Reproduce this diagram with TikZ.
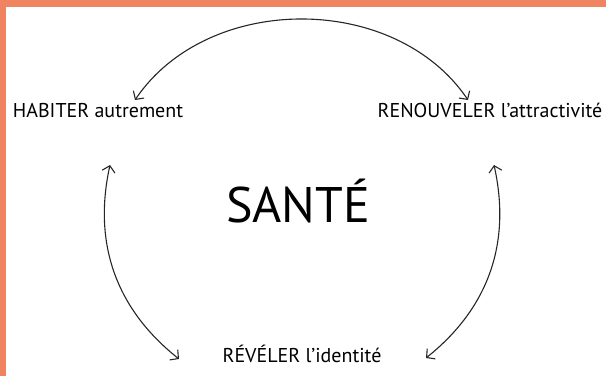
\documentclass[tikz,border=0pt]{standalone}
\usepackage{fontspec}
\setmainfont{PT Sans}
\usetikzlibrary{arrows.meta, positioning}
\definecolor{bandorange}{RGB}{240,131,96}

\begin{document}
\begin{tikzpicture}[x=1pt, y=-1pt, >={Straight Barb[length=6pt,width=13pt]}]

        \tikzstyle{theme}=[font=\fontsize{20}{24}\selectfont, inner sep=0pt, anchor=base]
        \tikzstyle{cycle}=[<->, line width=1.1pt, black!85]

        % frame
        \useasboundingbox (0,0) rectangle (606,376);
        \fill[white] (0,0) rectangle (606,376);
        \fill[bandorange] (0,0) rectangle (606,7);
        \fill[bandorange] (0,0) rectangle (6,376);

        \node[font=\fontsize{50}{58}\selectfont, inner sep=0pt, anchor=base] (sante) at (298,222) {SANTÉ};
        \node[theme] (habiter) at (98,117) {HABITER autrement};
        \node[theme] (renouveler) at (490,117) {RENOUVELER l’attractivité};
        \node[theme] (reveler) at (302,362) {RÉVÉLER l’identité};

        \coordinate (top_1) at (135,100);
        \coordinate (top_2) at (468,100);
        \coordinate (left_1) at (110,165);
        \coordinate (left_2) at (179,359);
        \coordinate (right_1) at (494,165);
        \coordinate (right_2) at (426,358);

        \path[cycle]
        (top_1) edge [bend left=56] (top_2)
        (left_1) edge [bend right=32] (left_2)
        (right_1) edge [bend left=32] (right_2);

\end{tikzpicture}
\end{document}
